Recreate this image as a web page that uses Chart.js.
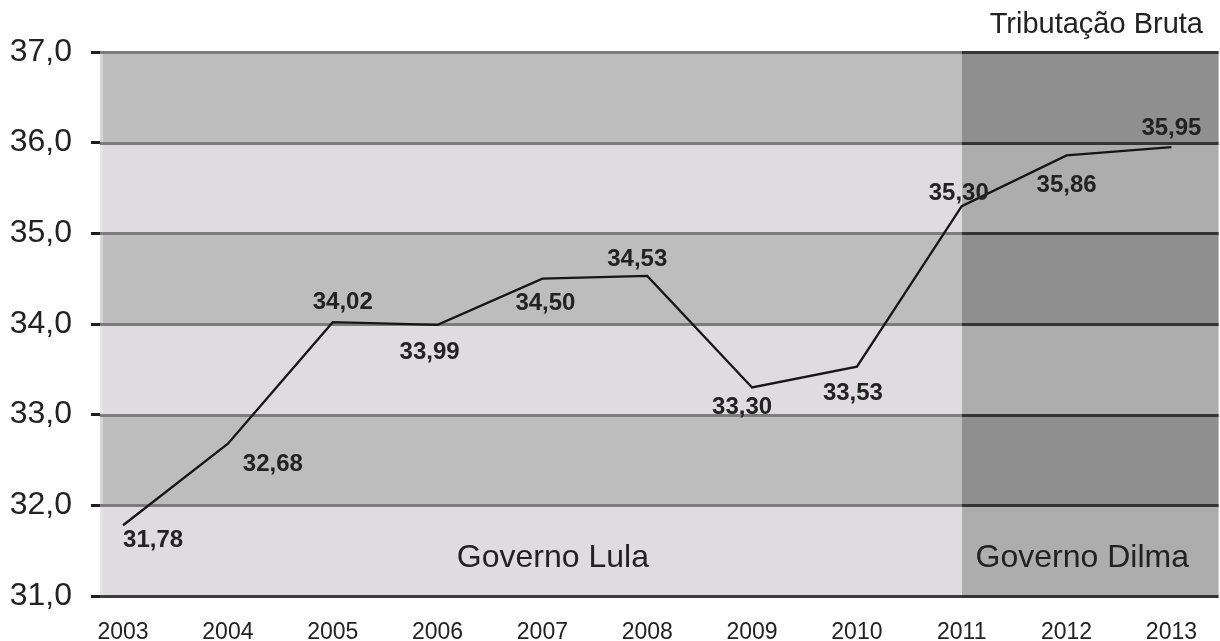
<!DOCTYPE html>
<html>
<head>
<meta charset="utf-8">
<script src="https://cdn.jsdelivr.net/npm/chart.js@4.4.1/dist/chart.umd.min.js"></script>
<style>
  html, body { margin: 0; padding: 0; background: #ffffff; }
  #wrap { width: 1220px; height: 641px; }
</style>
</head>
<body>
<div id="wrap"><canvas id="grafico"></canvas></div>
<script>
// Carga tributária bruta (% do PIB), 2003–2013
const anos = [2003, 2004, 2005, 2006, 2007, 2008, 2009, 2010, 2011, 2012, 2013];
const tributacaoBruta = [31.78, 32.68, 34.02, 33.99, 34.50, 34.53, 33.30, 33.53, 35.30, 35.86, 35.95];
const marcasY = [31, 32, 33, 34, 35, 36, 37];
const governos = ['Governo Lula', 'Governo Dilma'];
const inicioDilma = 2011;

// Onde cada rótulo de valor fica em relação ao ponto (px)
const rotuloDx = [30, 45, 10, -8, 3, -10, -10, -4, -3, 0, 0];
const rotuloDy = [15, 21, -20, 27, 25, -17, 20, 27, -13, 30, -19];

const fmt = v => v.toFixed(2).replace('.', ',');
const FONTE = '"Liberation Sans", Arial, sans-serif';

const faixas = {
  id: 'faixas',
  beforeDatasetsDraw(chart) {
    const { ctx, chartArea: a, scales: { x, y } } = chart;
    const xb = Math.round(x.getPixelForValue(inicioDilma));
    ctx.save();
    for (let i = 0; i < marcasY.length - 1; i++) {
      const y0 = y.getPixelForValue(marcasY[i]);
      const y1 = y.getPixelForValue(marcasY[i + 1]);
      const claro = i % 2 === 0;
      ctx.fillStyle = claro ? '#dedcde' : '#bdbdbd';
      ctx.fillRect(a.left, y1, xb - a.left, y0 - y1);
      ctx.fillStyle = claro ? '#adadad' : '#8f8f8f';
      ctx.fillRect(xb, y1, a.right - xb, y0 - y1);
    }
    // faixa clara junto ao eixo
    ctx.fillStyle = 'rgba(235,235,235,0.55)';
    ctx.fillRect(a.left, a.top, 3, a.bottom - a.top);
    // linhas de grade
    ctx.lineWidth = 3;
    marcasY.forEach((v, i) => {
      const py = Math.round(y.getPixelForValue(v)) + 0.5;
      const base = i === 0;
      ctx.strokeStyle = base ? '#3c3c3c' : '#7c7c7c';
      ctx.beginPath(); ctx.moveTo(a.left, py); ctx.lineTo(xb, py); ctx.stroke();
      ctx.strokeStyle = '#343434';
      ctx.beginPath(); ctx.moveTo(xb, py); ctx.lineTo(a.right, py); ctx.stroke();
    });
    ctx.restore();
  },
  afterDatasetsDraw(chart) {
    const { ctx, scales: { x, y } } = chart;
    const meta = chart.getDatasetMeta(0);
    ctx.save();
    ctx.fillStyle = '#222222';
    ctx.textAlign = 'center';
    ctx.textBaseline = 'middle';
    ctx.font = 'bold 24px ' + FONTE;
    meta.data.forEach((pt, i) => {
      ctx.fillText(fmt(tributacaoBruta[i]), pt.x + rotuloDx[i], pt.y + rotuloDy[i]);
    });
    ctx.font = '32px ' + FONTE;
    ctx.textBaseline = 'alphabetic';
    const yb = y.getPixelForValue(31.32);
    ctx.fillText(governos[0], x.getPixelForValue(2007.1), yb);
    ctx.fillText(governos[1], x.getPixelForValue(2012.15), yb);
    ctx.restore();
  },
  afterDraw(chart) {
    const { ctx } = chart;
    ctx.save();
    ctx.fillStyle = '#222222';
    ctx.font = '29px ' + FONTE;
    ctx.textAlign = 'right';
    ctx.textBaseline = 'alphabetic';
    ctx.fillText('Tributação Bruta', chart.width - 17, 33);
    ctx.restore();
  }
};

new Chart(document.getElementById('grafico'), {
  type: 'line',
  data: {
    datasets: [{
      data: anos.map((a, i) => ({ x: a, y: tributacaoBruta[i] })),
      borderColor: '#161616',
      borderWidth: 2.3,
      pointRadius: 0,
      tension: 0,
      fill: false
    }]
  },
  options: {
    responsive: true,
    maintainAspectRatio: false,
    animation: false,
    layout: { padding: { top: 52, right: 0, left: 0, bottom: 0 } },
    plugins: { legend: { display: false }, tooltip: { enabled: false } },
    scales: {
      x: {
        type: 'linear',
        min: 2002.78,
        max: 2013.45,
        afterBuildTicks: s => { s.ticks = anos.map(v => ({ value: v })); },
        afterFit: s => { s.height = 45; },
        grid: { display: false, drawTicks: false },
        border: { display: false },
        ticks: {
          autoSkip: false,
          maxRotation: 0,
          padding: 23,
          color: '#222222',
          font: { family: FONTE, size: 23 },
          callback: v => String(v)
        }
      },
      y: {
        min: 31,
        max: 37,
        afterBuildTicks: s => { s.ticks = marcasY.map(v => ({ value: v })); },
        afterFit: s => { s.width = 100; },
        grid: { drawOnChartArea: false, drawTicks: true, tickLength: 9, lineWidth: 3, color: '#1e1e1e' },
        border: { display: false },
        ticks: {
          padding: 19,
          color: '#222222',
          font: { family: FONTE, size: 32 },
          callback: v => v.toFixed(1).replace('.', ',')
        }
      }
    }
  },
  plugins: [faixas]
});
</script>
</body>
</html>
